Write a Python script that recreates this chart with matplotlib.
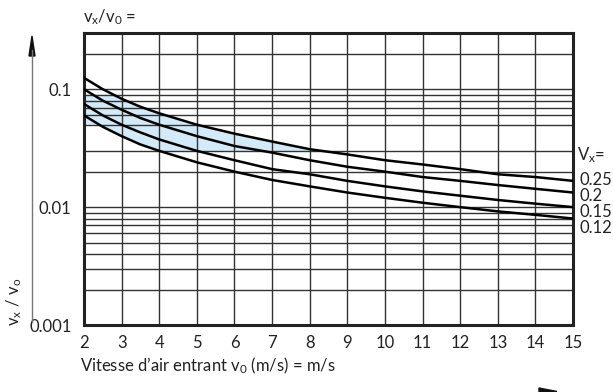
import matplotlib
matplotlib.use("Agg")
import matplotlib.pyplot as plt
from matplotlib.patches import Polygon

plt.rcParams['font.family'] = ['Lato', 'DejaVu Sans']
plt.rcParams['mathtext.fontset'] = 'custom'
plt.rcParams['mathtext.rm'] = 'Lato'
plt.rcParams['mathtext.it'] = 'Lato'

# inlet air speed v0 (m/s) and ratio vx/v0 for each terminal velocity Vx
v0 = [2, 2.5, 3, 3.5, 4, 5, 6, 7, 8, 9, 10, 11, 12, 13, 14, 15]
ratio_025 = [0.125, 0.1, 0.083, 0.071, 0.0625, 0.05, 0.042, 0.036, 0.031, 0.028, 0.025, 0.023, 0.021, 0.019, 0.018, 0.0167]
ratio_020 = [0.1, 0.08, 0.067, 0.057, 0.05, 0.04, 0.033, 0.029, 0.025, 0.022, 0.02, 0.018, 0.0167, 0.0154, 0.0143, 0.0133]
ratio_015 = [0.075, 0.06, 0.05, 0.043, 0.0375, 0.03, 0.025, 0.021, 0.019, 0.0167, 0.015, 0.0136, 0.0125, 0.0115, 0.0107, 0.01]
ratio_012 = [0.06, 0.048, 0.04, 0.034, 0.03, 0.024, 0.02, 0.017, 0.015, 0.0133, 0.012, 0.0109, 0.01, 0.0092, 0.0086, 0.008]
curve_labels = ['0.25', '0.2', '0.15', '0.12']

# recommended zone (upper and lower edge)
zone_top_x = [2, 2.78, 3, 3.5, 4, 5, 6, 7, 8, 8.33]
zone_top_y = [0.09, 0.09, 0.083, 0.071, 0.0625, 0.05, 0.042, 0.036, 0.031, 0.03]
zone_bot_x = [2, 2.4, 3, 3.5, 4, 8.33]
zone_bot_y = [0.05, 0.05, 0.04, 0.034, 0.03, 0.03]

hlines = [0.2, 0.1, 0.09, 0.08, 0.07, 0.06, 0.05, 0.03, 0.02,
          0.01, 0.009, 0.008, 0.007, 0.006, 0.005, 0.004, 0.003, 0.002]

txt_c = '#222222'
fs = 12

fig = plt.figure(figsize=(6.13, 3.92), dpi=100)
ax = fig.add_axes([84/613, 1-325/392, 489/613, 292/392])
ax.set_yscale('log')
ax.set_xlim(2, 15)
ax.set_ylim(0.001, 0.3)

grid_c = '#333333'
for y in hlines:
    ax.axhline(y, color=grid_c, lw=1.0, zorder=1)
for x in range(3, 15):
    ax.axvline(x, color=grid_c, lw=1.0, zorder=1)

pts = list(zip(zone_top_x, zone_top_y)) + list(zip(zone_bot_x, zone_bot_y))[::-1]
ax.add_patch(Polygon(pts, closed=True, facecolor='#d3ebf8', edgecolor='none', zorder=0.5))

for series in (ratio_025, ratio_020, ratio_015, ratio_012):
    ax.plot(v0, series, color='black', lw=1.8, zorder=3)

ax.set_xticks(range(2, 16))
ax.set_yticks([0.001, 0.01, 0.1])
ax.set_yticklabels(['0.001', '0.01', '0.1'])
ax.minorticks_off()
ax.tick_params(length=0, labelsize=fs, colors=txt_c, pad=7)
ax.tick_params(axis='y', pad=9)
for s in ax.spines.values():
    s.set_linewidth(2.2)
    s.set_color(txt_c)

ax.set_xlabel('Vitesse d\u2019air entrant $\\mathregular{v_0}$ (m/s) = m/s',
              fontsize=fs, color=txt_c, loc='left', labelpad=4)
ax.xaxis.set_label_coords(-0.008, -0.105, transform=ax.transAxes)
ax.xaxis.label.set_va('top')

fig.text(83/613, 1-17/392, '$\\mathregular{v_x/ v_0}$ =', fontsize=fs, color=txt_c, va='center')
fig.text(14/613, 1-302/392, '$\\mathregular{v_x\\ /\\ v_o}$', fontsize=fs, color=txt_c,
         rotation=90, va='center', ha='center')

# rising arrow along the y axis side
fig.add_artist(plt.Line2D([32/613, 32/613], [1-322/392, 1-50/392], color='#777777', lw=1.0))
fig.add_artist(Polygon([[29/613, 1-56/392], [35/613, 1-56/392], [32/613, 1-36/392]],
                       closed=True, color='#111111'))
fig.add_artist(Polygon([[539/613, 1-388/392], [557/613, 1-391.5/392], [539/613, 1-393/392]],
                       closed=True, color='#111111'))

fig.text(577/613, 1-155/392, 'V$\\mathregular{_x}$=', fontsize=fs, color=txt_c, va='center')
for i, lab in enumerate(curve_labels):
    fig.text(579/613, 1-(180+16*i)/392, lab, fontsize=fs, color=txt_c, va='center')

fig.savefig('out.png', dpi=100)
